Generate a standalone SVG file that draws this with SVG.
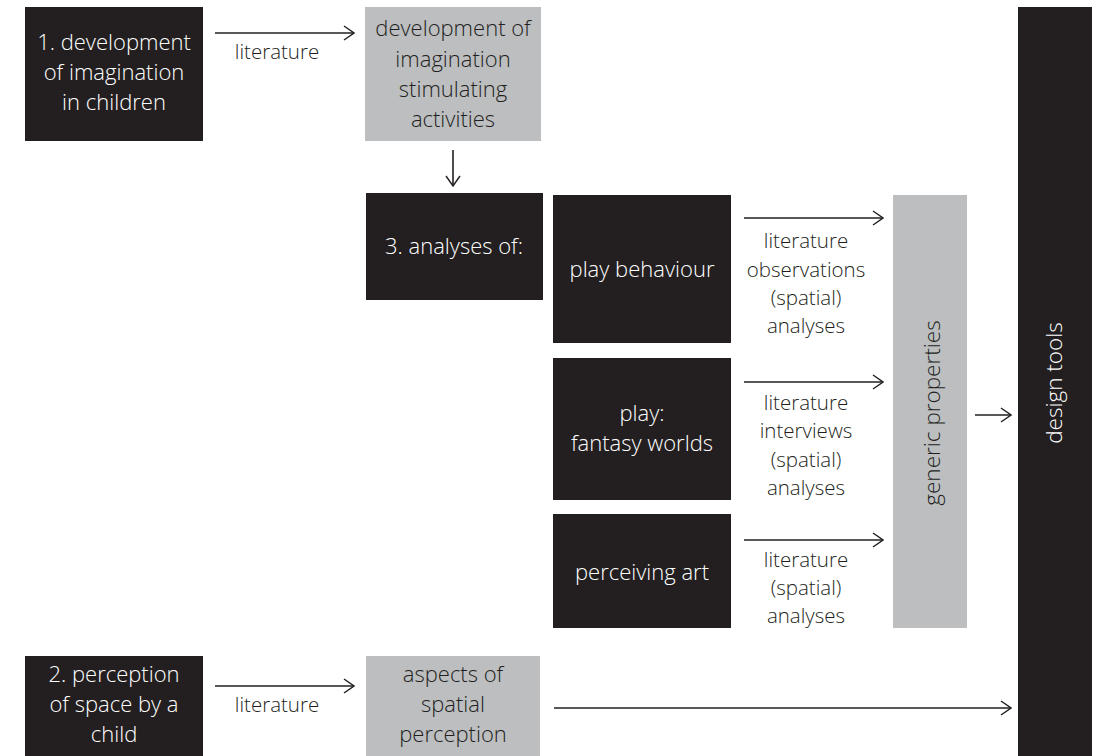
<svg xmlns="http://www.w3.org/2000/svg" width="1099" height="756" viewBox="0 0 1099 756">
  <defs>
    <style>
      .dark { fill: #231f20; }
      .grey { fill: #bcbec0; }
      text { font-family: "Open Sans", "Liberation Sans", Arial, sans-serif; font-weight: 300; text-anchor: middle; }
      .lbl-w { fill: #ffffff; font-size: 22px; }
      .lbl-d { fill: #231f20; font-size: 22px; }
      .vert { font-size: 22.5px; }
      .edge { fill: #231f20; font-size: 20.5px; }
      .conn { stroke: #231f20; stroke-width: 1.6; fill: none; }
    </style>
    <marker id="open" viewBox="0 0 12 16" refX="11" refY="8" markerWidth="12" markerHeight="16" markerUnits="userSpaceOnUse" orient="auto">
      <path d="M1,1 L11,8 L1,15" fill="none" stroke="#231f20" stroke-width="1.4"/>
    </marker>
  </defs>

  <rect width="1099" height="756" fill="#ffffff"/>

  <!-- boxes -->
  <g id="imagination-children">
    <rect class="dark" x="25" y="7" width="178" height="134"/>
    <text class="lbl-w" x="114" y="50">1. development</text>
    <text class="lbl-w" x="114" y="80">of imagination</text>
    <text class="lbl-w" x="114" y="110">in children</text>
  </g>

  <g id="stimulating-activities">
    <rect class="grey" x="365" y="7" width="176" height="134"/>
    <text class="lbl-d" x="453" y="36">development of</text>
    <text class="lbl-d" x="453" y="67">imagination</text>
    <text class="lbl-d" x="453" y="97">stimulating</text>
    <text class="lbl-d" x="453" y="127">activities</text>
  </g>

  <g id="analyses">
    <rect class="dark" x="366" y="193" width="177" height="107"/>
    <text class="lbl-w" x="454" y="254">3. analyses of:</text>
  </g>

  <g id="play-behaviour">
    <rect class="dark" x="553" y="195" width="178" height="148"/>
    <text class="lbl-w" x="642" y="277">play behaviour</text>
  </g>

  <g id="fantasy-worlds">
    <rect class="dark" x="553" y="358" width="178" height="142"/>
    <text class="lbl-w" x="642" y="421">play:</text>
    <text class="lbl-w" x="642" y="451">fantasy worlds</text>
  </g>

  <g id="perceiving-art">
    <rect class="dark" x="553" y="514" width="178" height="114"/>
    <text class="lbl-w" x="642" y="580">perceiving art</text>
  </g>

  <g id="generic-properties">
    <rect class="grey" x="893" y="195" width="74" height="433"/>
    <text class="lbl-d vert" transform="translate(940 413) rotate(-90)">generic properties</text>
  </g>

  <g id="design-tools">
    <rect class="dark" x="1018" y="7" width="74" height="749"/>
    <text class="lbl-w vert" transform="translate(1062 383) rotate(-90)">design tools</text>
  </g>

  <g id="space-perception-child">
    <rect class="dark" x="25" y="656" width="178" height="100"/>
    <text class="lbl-w" x="114" y="682">2. perception</text>
    <text class="lbl-w" x="114" y="712">of space by a</text>
    <text class="lbl-w" x="114" y="742">child</text>
  </g>

  <g id="spatial-perception">
    <rect class="grey" x="366" y="656" width="174" height="100"/>
    <text class="lbl-d" x="453" y="682">aspects of</text>
    <text class="lbl-d" x="453" y="712">spatial</text>
    <text class="lbl-d" x="453" y="742">perception</text>
  </g>

  <!-- connectors -->
  <g id="connectors">
    <path class="conn" d="M215,33 L354,33" marker-end="url(#open)"/>
    <path class="conn" d="M453,150 L453,186" marker-end="url(#open)"/>
    <path class="conn" d="M744,218 L883,218" marker-end="url(#open)"/>
    <path class="conn" d="M744,382 L883,382" marker-end="url(#open)"/>
    <path class="conn" d="M744,540 L883,540" marker-end="url(#open)"/>
    <path class="conn" d="M975,415 L1011,415" marker-end="url(#open)"/>
    <path class="conn" d="M215,686 L354,686" marker-end="url(#open)"/>
    <path class="conn" d="M554,708 L1011,708" marker-end="url(#open)"/>

    <text class="edge" x="277" y="59">literature</text>
    <text class="edge" x="277" y="712">literature</text>

    <text class="edge" x="806" y="248">literature</text>
    <text class="edge" x="806" y="277">observations</text>
    <text class="edge" x="806" y="305">(spatial)</text>
    <text class="edge" x="806" y="333">analyses</text>

    <text class="edge" x="806" y="410">literature</text>
    <text class="edge" x="806" y="438">interviews</text>
    <text class="edge" x="806" y="467">(spatial)</text>
    <text class="edge" x="806" y="495">analyses</text>

    <text class="edge" x="806" y="567">literature</text>
    <text class="edge" x="806" y="595">(spatial)</text>
    <text class="edge" x="806" y="623">analyses</text>
  </g>
</svg>
